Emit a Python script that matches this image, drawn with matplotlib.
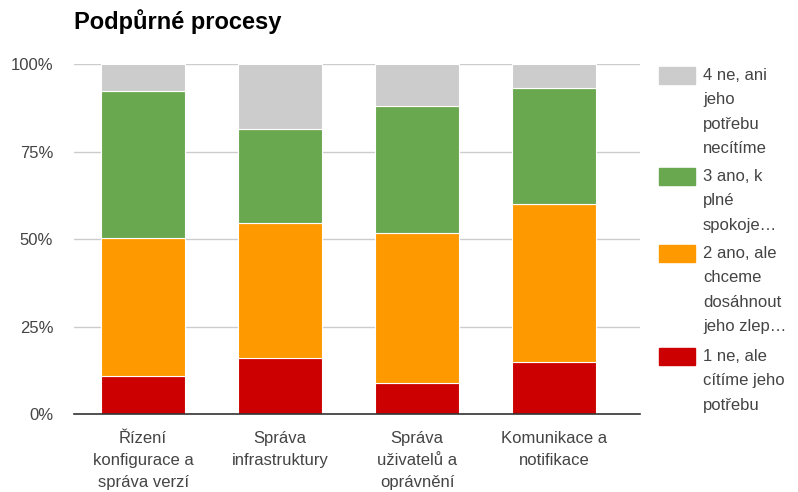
import matplotlib.pyplot as plt
import matplotlib.patches as mpatches
import numpy as np

plt.rcParams['font.family'] = ['Liberation Sans', 'DejaVu Sans']

categories = ["Řízení\nkonfigurace a\nspráva verzí", "Správa\ninfrastruktury",
              "Správa\nuživatelů a\noprávnění", "Komunikace a\nnotifikace"]
series_names = ["1 ne, ale\ncítíme jeho\npotřebu",
                "2 ano, ale\nchceme\ndosáhnout\njeho zlep…",
                "3 ano, k\nplné\nspokoje…",
                "4 ne, ani\njeho\npotřebu\nnecítíme"]
colors = ["#cc0000", "#ff9900", "#6aa84f", "#cccccc"]

s1 = [10.9, 16.1, 8.8, 14.9]
s2 = [39.5, 38.6, 42.9, 45.2]
s3 = [42.1, 26.8, 36.4, 33.2]
s4 = [7.5, 18.5, 11.9, 6.7]
values = [s1, s2, s3, s4]

fig = plt.figure(figsize=(7.98, 4.92), dpi=100)
ax = fig.add_axes([74/798, 1-414/492, (640-74)/798, (414-64.3)/492])

x = np.arange(len(categories))
bottom = np.zeros(len(categories))
for vals, col in zip(values, colors):
    ax.bar(x, vals, width=84/137, bottom=bottom, color=col,
           edgecolor="white", linewidth=0.8, zorder=3)
    bottom += np.array(vals)

ax.set_xlim(-69/137, (640-143)/137)
ax.set_ylim(0, 100)
ax.set_yticks([0, 25, 50, 75, 100])
ax.set_yticklabels(["0%", "25%", "50%", "75%", "100%"])
ax.yaxis.grid(True, color="#cccccc", linewidth=1, zorder=0)
ax.set_xticks(x)
ax.set_xticklabels(categories, linespacing=1.6)
ax.tick_params(axis="both", length=0, labelsize=12, colors="#444444")
ax.tick_params(axis="x", pad=12)
ax.tick_params(axis="y", pad=15)
for side in ["top", "right", "left"]:
    ax.spines[side].set_visible(False)
ax.spines["bottom"].set_color("#333333")
ax.spines["bottom"].set_linewidth(1.2)
ax.spines["bottom"].set_zorder(4)

fig.text(74/798, 1-22/492, "Podpůrné procesy", fontsize=17, fontweight="bold",
         va="center", ha="left", color="black")

# legend drawn by hand, top entry = last series
leg_y = [75, 176, 253, 356]
for name, col, yy in zip(series_names[::-1], colors[::-1], leg_y):
    fig.patches.append(mpatches.Rectangle((659/798, 1-(yy+8.5)/492), 36/798, 17/492,
                                          transform=fig.transFigure, color=col))
    fig.text(703/798, 1-(yy-7)/492, name, fontsize=12, color="#444444",
             va="top", ha="left", linespacing=1.78)

fig.savefig("out.png", dpi=100)
